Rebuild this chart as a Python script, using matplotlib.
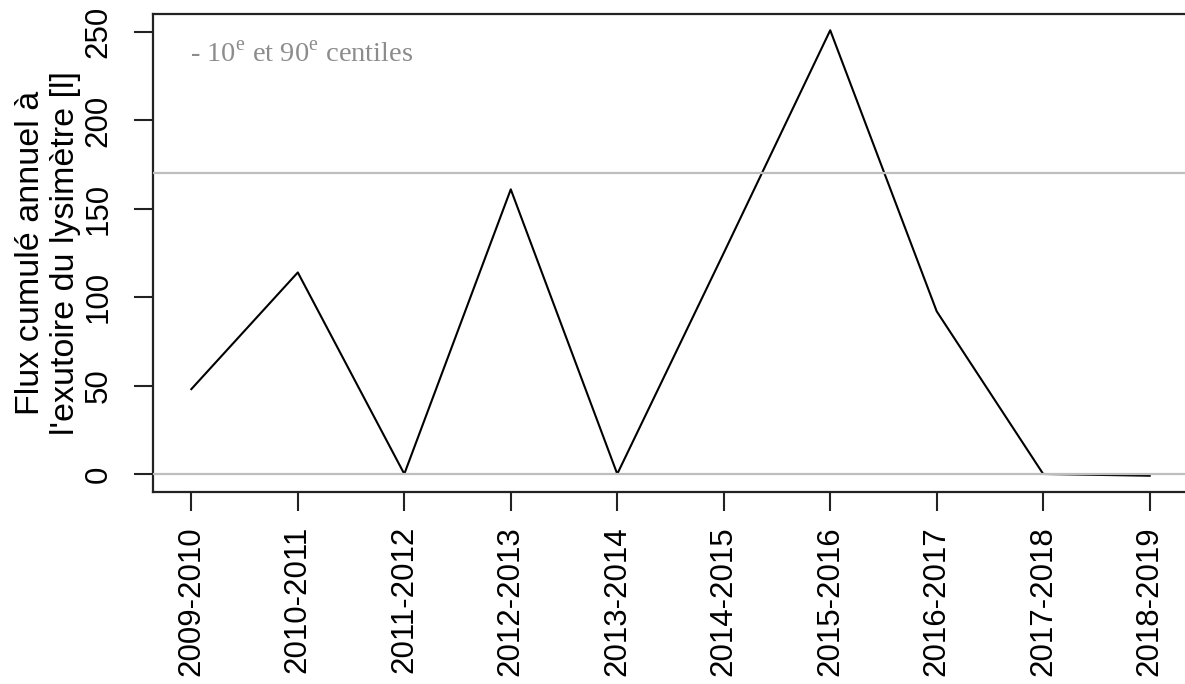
import matplotlib
matplotlib.use("Agg")
import matplotlib.pyplot as plt
import numpy as np

years = ["2009-2010", "2010-2011", "2011-2012", "2012-2013", "2013-2014",
         "2014-2015", "2015-2016", "2016-2017", "2017-2018", "2018-2019"]
flux = [48, 114, 0, 161, 0, 125, 251, 92, 0, -1]
p10 = 0
p90 = 170
yticks = [0, 50, 100, 150, 200, 250]

plt.rcParams['font.family'] = ['Liberation Sans', 'DejaVu Sans']
plt.rcParams['mathtext.fontset'] = 'custom'
plt.rcParams['mathtext.rm'] = 'Liberation Serif'

fig = plt.figure(figsize=(11.85, 6.84), dpi=100)
ax = fig.add_axes([153/1185, 1-492/684, (1188-153)/1185, (492-14)/684])

x = np.arange(len(years))
ax.plot(x, flux, color='black', lw=1.5, zorder=2)
ax.axhline(p10, color='#bebebe', lw=1.6, zorder=3)
ax.axhline(p90, color='#bebebe', lw=1.6, zorder=3)

ax.set_xlim(-0.36, len(years) - 1 + 0.36)
ax.set_ylim(-10.2, 260.2)
ax.set_xticks(x)
ax.set_xticklabels(years, rotation=90, fontsize=22.5)
ax.set_yticks(yticks)
ax.set_yticklabels([str(v) for v in yticks], rotation=90, va='center', fontsize=22.5)
ax.tick_params(axis='both', length=13.5, width=1.5, color='#222222')
ax.tick_params(axis='x', pad=11)
ax.tick_params(axis='y', pad=15)
for s in ['left', 'bottom', 'top']:
    ax.spines[s].set_linewidth(1.6)
    ax.spines[s].set_color('#222222')
ax.spines['right'].set_visible(False)

ax.set_ylabel("Flux cumulé annuel à\nl'exutoire du lysimètre [l]", fontsize=24.5, labelpad=2, linespacing=1.15)

ax.text(0.036, 0.915, r"- 10$^{\mathrm{e}}$ et 90$^{\mathrm{e}}$ centiles",
        transform=ax.transAxes, fontsize=20.5, color='#8c8c8c',
        family='Liberation Serif', va='center', ha='left')

fig.savefig("out.png", dpi=100)
